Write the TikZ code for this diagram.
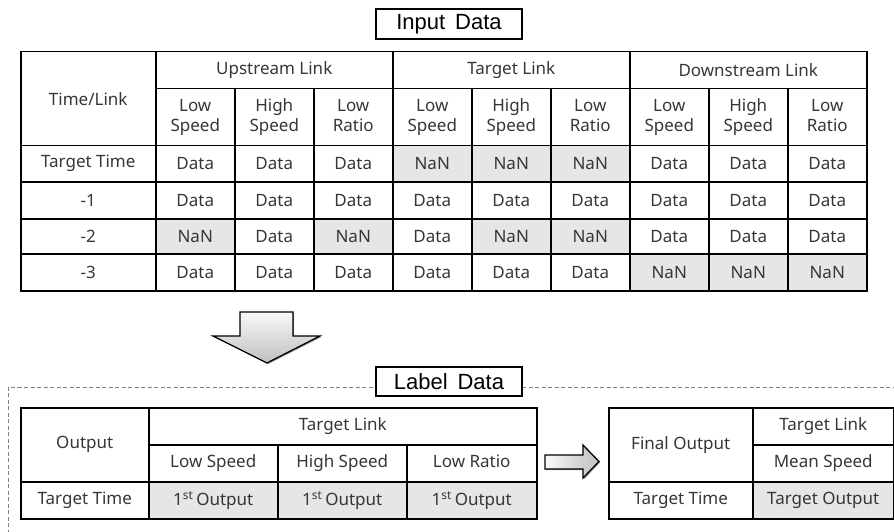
\documentclass[tikz,border=0pt]{standalone}
\usepackage{fontspec}
\setmainfont{Noto Sans}
\newfontfamily\labelfont{Liberation Sans}
\usetikzlibrary{shadows}
\definecolor{cellgray}{HTML}{E6E6E6}
\definecolor{celltext}{HTML}{363636}
\definecolor{dashgray}{HTML}{808080}
% \tcell{name}{x0}{y0}{x1}{y1}{extra style}{text}
\newcommand\tcell[7]{%
  \node[cellbox,#6,minimum width={(#4)-(#2)},minimum height={(#5)-(#3)}]
    (#1) at (#2,#3) {#7};}
\newcommand\fst{1\textsuperscript{st}\,Output}
\tikzset{
  cellbox/.style={draw=black,line width=1.5pt,anchor=north west,inner sep=0pt,
    align=center,text=celltext,font=\fontsize{17}{20}\selectfont},
  nan/.style={fill=cellgray},
  titlebox/.style={draw=black,line width=1.2pt,fill=white,inner sep=0pt,
    minimum width=146pt,minimum height=30pt,font=\labelfont\fontsize{22}{24}\selectfont},
  blockarrow/.style={draw=black,line width=1.3pt,line join=miter,
    drop shadow={shadow xshift=1.2pt,shadow yshift=-1.2pt,opacity=0.35,fill=black}},
}
\begin{document}
\begin{tikzpicture}[x=1pt,y=-1pt]
\useasboundingbox (0,0) rectangle (894,532);
\clip (0,0) rectangle (894,532);

% ---------- input table ----------
\node[titlebox] (inTitle) at (449,24) {Input\hspace{0.45em}Data};

\tcell{tl}{20}{51}{155}{145}{}{Time/Link}
\tcell{grpU}{155}{51}{392}{88}{}{Upstream Link}
\tcell{grpT}{392}{51}{629}{88}{}{Target Link}
\tcell{grpD}{629}{51}{866}{88}{}{Downstream Link}

\foreach \g/\xa in {U/155,T/392,D/629}{
  \pgfmathsetmacro\xb{\xa+79}\pgfmathsetmacro\xc{\xa+158}\pgfmathsetmacro\xd{\xa+237}
  \tcell{h\g1}{\xa}{88}{\xb}{145}{}{Low\strut\\Speed\strut}
  \tcell{h\g2}{\xb}{88}{\xc}{145}{}{High\strut\\Speed\strut}
  \tcell{h\g3}{\xc}{88}{\xd}{145}{}{Low\strut\\Ratio\strut}
}

% row labels
\tcell{r0}{20}{145}{155}{181}{}{Target Time}
\tcell{r1}{20}{181}{155}{218}{}{-1}
\tcell{r2}{20}{218}{155}{253}{}{-2}
\tcell{r3}{20}{253}{155}{290}{}{-3}

% data cells: row / column / content (n = missing)
\foreach \r/\ya/\yb/\vals in {
  0/145/181/{d,d,d,n,n,n,d,d,d},
  1/181/218/{d,d,d,d,d,d,d,d,d},
  2/218/253/{n,d,n,d,n,n,d,d,d},
  3/253/290/{d,d,d,d,d,d,n,n,n}}{
  \foreach \v [count=\c from 0] in \vals {
    \pgfmathsetmacro\xa{155+79*\c}\pgfmathsetmacro\xb{\xa+79}
    \ifnum\pdfstrcmp{\v}{n}=0
      \tcell{c\r-\c}{\xa}{\ya}{\xb}{\yb}{nan}{NaN}
    \else
      \tcell{c\r-\c}{\xa}{\ya}{\xb}{\yb}{}{Data}
    \fi
  }
}

% ---------- arrow down ----------
\fill[top color=gray!5,bottom color=gray!50,blockarrow]
  (240,312) -- (293,312) -- (293,336) -- (320,336) -- (267,363)
  -- (213,336) -- (240,336) -- cycle;

% ---------- label frame ----------
\draw[dashgray,line width=1pt,dash pattern=on 4pt off 2.5pt]
  (8,540) |- (376,387);
\draw[dashgray,line width=1pt,dash pattern=on 4pt off 2.5pt]
  (522,387) -- (900,387);
\node[titlebox,minimum height=29pt] (lbTitle) at (449,381.5) {Label\hspace{0.45em}Data};

% ---------- first output table ----------
\tcell{oHead}{20}{407}{148}{481}{}{Output}
\tcell{oLink}{148}{407}{536}{444}{}{Target Link}
\tcell{oLS}{148}{444}{277}{481}{}{Low Speed}
\tcell{oHS}{277}{444}{406}{481}{}{High Speed}
\tcell{oLR}{406}{444}{536}{481}{}{Low Ratio\strut}
\tcell{oTime}{20}{481}{148}{518}{}{Target Time}
\tcell{o1}{148}{481}{277}{518}{nan}{\fst}
\tcell{o2}{277}{481}{406}{518}{nan}{\fst}
\tcell{o3}{406}{481}{536}{518}{nan}{\fst}

% ---------- arrow right ----------
\fill[left color=gray!5,right color=gray!50,blockarrow]
  (545,455) -- (583,455) -- (583,445) -- (599,461.5) -- (583,478)
  -- (583,469) -- (545,469) -- cycle;

% ---------- final output table ----------
\tcell{fHead}{608}{407}{752}{481}{}{Final Output}
\tcell{fLink}{752}{407}{893}{444}{}{Target Link}
\tcell{fMS}{752}{444}{893}{481}{}{Mean Speed}
\tcell{fTime}{608}{481}{752}{518}{}{Target Time}
\tcell{fOut}{752}{481}{893}{518}{nan}{Target Output}
\end{tikzpicture}
\end{document}
